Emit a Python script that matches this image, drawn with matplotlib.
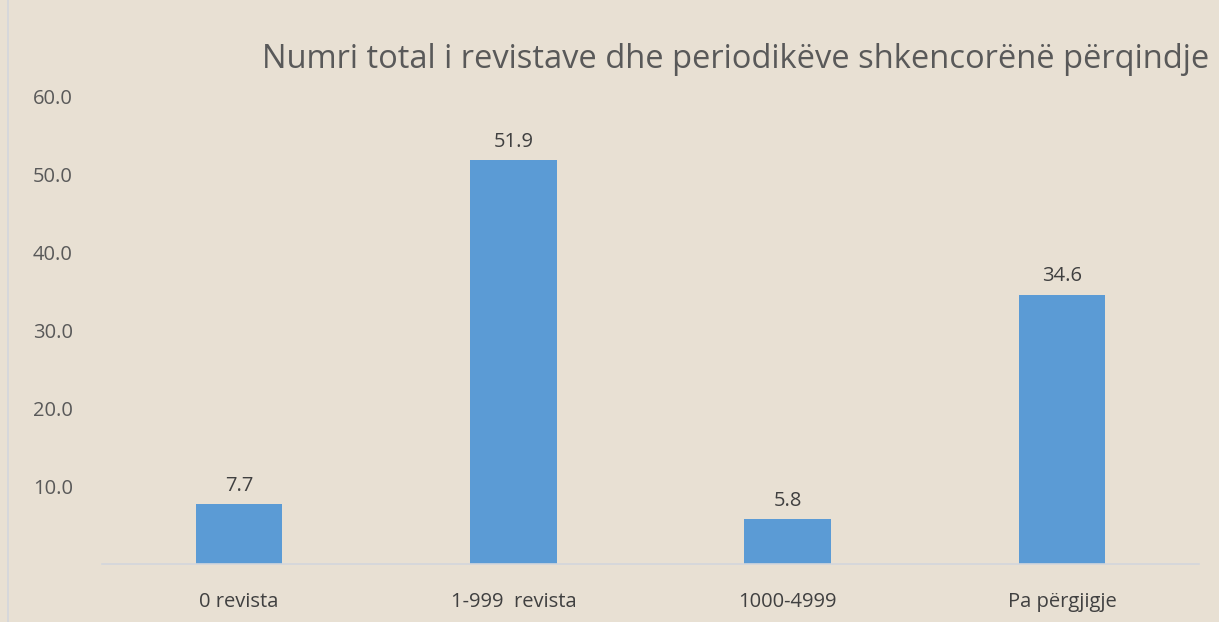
import matplotlib.pyplot as plt
from matplotlib.lines import Line2D

categories = ["0 revista", "1-999  revista", "1000-4999", "Pa përgjigje"]
values = [7.7, 51.9, 5.8, 34.6]
yticks = [10, 20, 30, 40, 50, 60]
title = "Numri total i revistave dhe periodikëve shkencorënë përqindje"

bg = "#e8e0d3"
bar_color = "#5b9bd5"
txt = "#595959"
dark = "#404040"

plt.rcParams['font.family'] = ['Open Sans', 'DejaVu Sans']

fig = plt.figure(figsize=(12.19, 6.22), dpi=100, facecolor=bg)
ax = fig.add_axes([102/1219, 1 - 564/622, 1097/1219, 467/622])
ax.set_facecolor(bg)

x = range(len(categories))
bars = ax.bar(x, values, width=0.315, color=bar_color)
for b, v in zip(bars, values):
    ax.annotate(f"{v:.1f}", (b.get_x() + b.get_width()/2, v), xytext=(0, 6),
                textcoords="offset points", ha="center", va="bottom",
                fontsize=14.5, color=dark)

ax.set_xlim(-0.5, len(categories) - 0.5)
ax.set_ylim(0, 60)
ax.set_yticks(yticks)
ax.set_yticklabels([f"{t:.1f}" for t in yticks], fontsize=14.5, color=txt)
ax.tick_params(axis="y", length=0, pad=21)
ax.set_xticks(list(x))
ax.set_xticklabels(categories, fontsize=14.5, color=dark)
ax.tick_params(axis="x", length=0, pad=20)

for s in ["top", "right", "left"]:
    ax.spines[s].set_visible(False)
ax.spines["bottom"].set_color("#d3d6dc")
ax.spines["bottom"].set_linewidth(1.2)

fig.text(736/1219, 1 - 60/622, title, ha="center", va="center",
         fontsize=23.5, color=txt)
fig.add_artist(Line2D([8/1219, 8/1219], [0, 1], color="#d3d6dc", lw=1.2,
                      transform=fig.transFigure))

fig.savefig("out.png", dpi=100, facecolor=bg)
